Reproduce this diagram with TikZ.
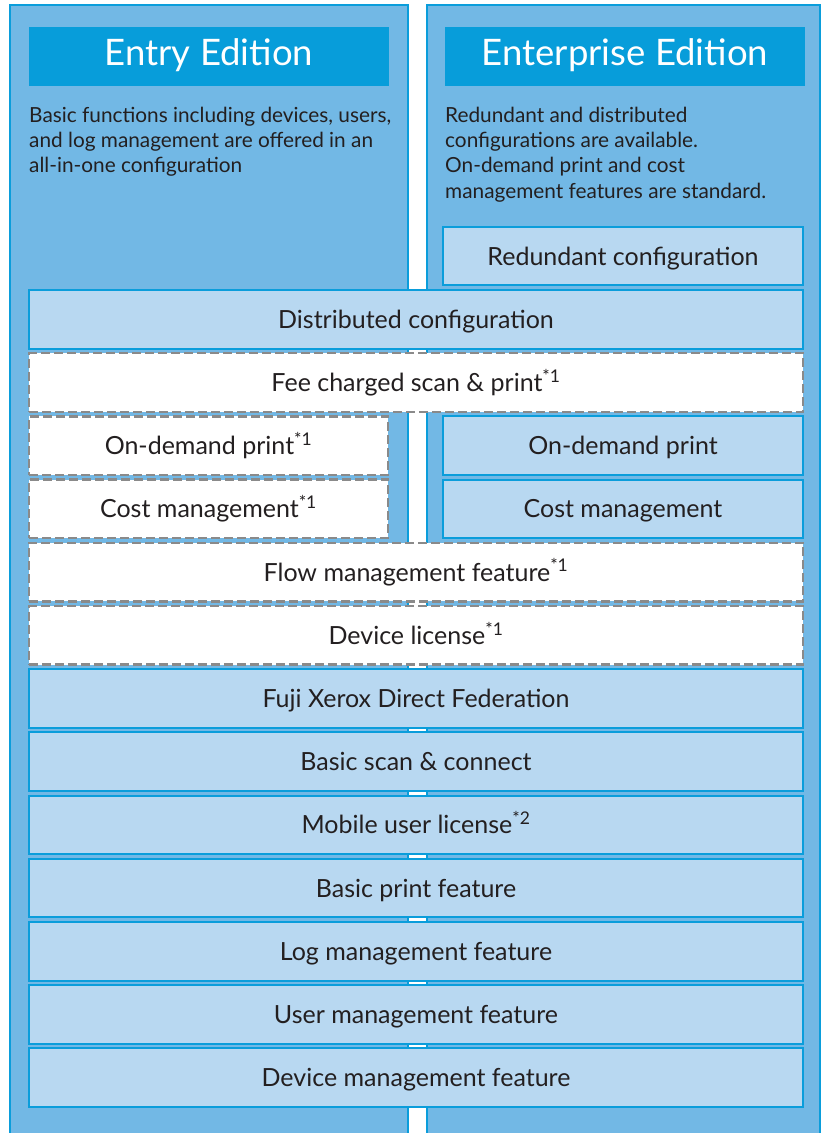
\documentclass[tikz,border=0pt]{standalone}
\usepackage{fontspec}
\setmainfont{Lato}
\definecolor{panel}{HTML}{72B8E5}
\definecolor{edge}{HTML}{0A9DDB}
\definecolor{head}{HTML}{079DDA}
\definecolor{feat}{HTML}{B8D8F1}
\definecolor{dashgray}{HTML}{8A8A8A}
\definecolor{ink}{HTML}{231F20}
\begin{document}
\begin{tikzpicture}[x=1pt,y=-1pt,
  panelbox/.style={draw=edge,fill=panel,line width=2pt},
  headbox/.style={fill=head,text=white,minimum width=360pt,minimum height=59pt,inner sep=0pt,
    font=\fontsize{36.5}{42}\selectfont,text height=26pt,text depth=8pt},
  desc/.style={text=ink,anchor=north west,inner sep=0pt,align=left,font=\fontsize{20.8}{25.2}\selectfont},
  featbox/.style={draw=edge,fill=feat,line width=2pt,text=ink,minimum height=58.5pt,inner sep=0pt,
    font=\fontsize{25}{30}\selectfont,text height=17.9pt,text depth=0pt},
  optbox/.style={featbox,draw=dashgray,fill=white,line width=2.4pt,dash pattern=on 9pt off 4pt},
  full/.style={minimum width=774pt},
  half/.style={minimum width=360pt}
]
\useasboundingbox (0,0) rectangle (822,1133);
\clip (0,0) rectangle (822,1133);
% column panels
\draw[panelbox] (10,5) rectangle (408,1160);
\draw[panelbox] (427,5) rectangle (820,1160);
% headers
\node[headbox] (entry) at (209,56.5) {Entry Edition};
\node[headbox] (enterprise) at (625,56.5) {Enterprise Edition};
% descriptions
\node[desc] (entrydesc) at (29,107) {Basic functions including devices, users,\\and log management are offered in an\\all-in-one configuration};
\node[desc] (entdesc) at (445,107) {Redundant and distributed\\configurations are available.\\On-demand print and cost\\management features are standard.};
% feature rows
\node[featbox,half] (redund) at (623,256.05) {Redundant configuration};
\node[featbox,full] (dist) at (416,319.25) {Distributed configuration};
\node[optbox,full] (fee) at (416,382.45) {Fee charged scan \& print\textsuperscript{*1}};
\node[optbox,half,minimum width=359pt] (odl) at (208.5,445.65) {On-demand print\textsuperscript{*1}};
\node[featbox,half] (odr) at (623,445.65) {On-demand print};
\node[optbox,half,minimum width=359pt] (cml) at (208.5,508.85) {Cost management\textsuperscript{*1}};
\node[featbox,half] (cmr) at (623,508.85) {Cost management};
\node[optbox,full] (flow) at (416,572.05) {Flow management feature\textsuperscript{*1}};
\node[optbox,full] (devlic) at (416,635.25) {Device license\textsuperscript{*1}};
\node[featbox,full] (fuji) at (416,698.45) {Fuji Xerox Direct Federation};
\node[featbox,full] (scan) at (416,761.65) {Basic scan \& connect};
\node[featbox,full] (mobile) at (416,824.85) {Mobile user license\textsuperscript{*2}};
\node[featbox,full] (print) at (416,888.05) {Basic print feature};
\node[featbox,full] (log) at (416,951.25) {Log management feature};
\node[featbox,full] (user) at (416,1014.45) {User management feature};
\node[featbox,full] (devmgmt) at (416,1077.65) {Device management feature};
\end{tikzpicture}
\end{document}
